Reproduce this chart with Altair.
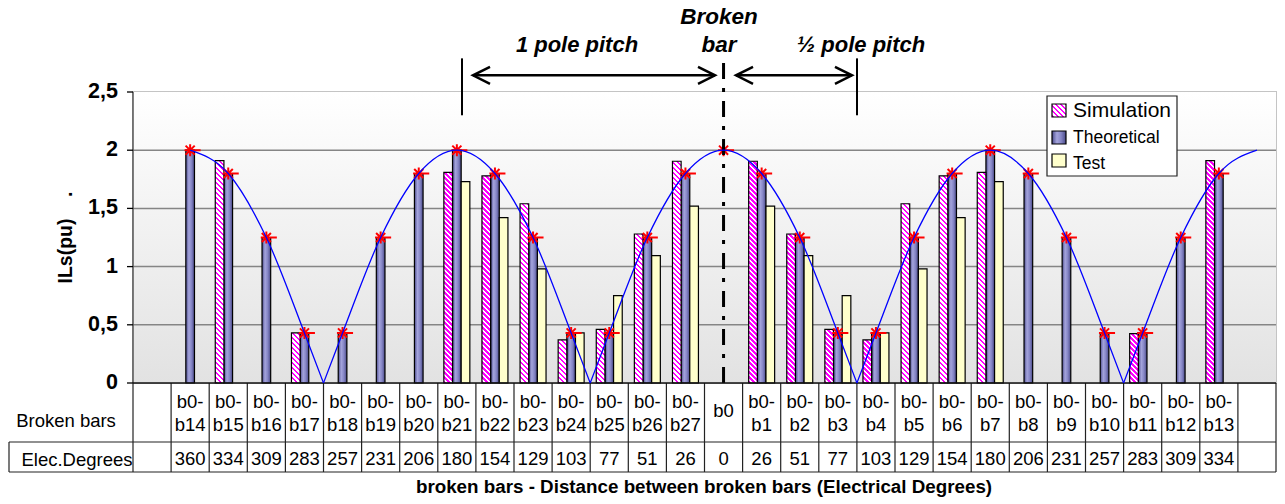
import altair as alt
import pandas as pd

# ---------------- data ----------------
categories = ["", "b0-b14", "b0-b15", "b0-b16", "b0-b17", "b0-b18", "b0-b19", "b0-b20",
              "b0-b21", "b0-b22", "b0-b23", "b0-b24", "b0-b25", "b0-b26", "b0-b27", "b0",
              "b0-b1", "b0-b2", "b0-b3", "b0-b4", "b0-b5", "b0-b6", "b0-b7", "b0-b8",
              "b0-b9", "b0-b10", "b0-b11", "b0-b12", "b0-b13", ""]
elec_degrees = [None, 360, 334, 309, 283, 257, 231, 206, 180, 154, 129, 103, 77, 51, 26, 0,
                26, 51, 77, 103, 129, 154, 180, 206, 231, 257, 283, 309, 334, None]
simulation = [None, None, 1.91, None, 0.43, None, None, None, 1.81, 1.78, 1.54, 0.37, 0.46, 1.28,
              1.905, None, 1.905, 1.28, 0.46, 0.37, 1.54, 1.78, 1.81, None, None, None, 0.425,
              None, 1.91, None]
theoretical = [None, 2.0, 1.8, 1.25, 0.43, 0.43, 1.25, 1.8, 2.0, 1.8, 1.25, 0.43, 0.43, 1.25, 1.8,
               None, 1.8, 1.25, 0.43, 0.43, 1.25, 1.8, 2.0, 1.8, 1.25, 0.43, 0.43, 1.25, 1.8, None]
test = [None, None, None, None, None, None, None, None, 1.73, 1.42, 0.98, 0.43, 0.75, 1.095,
        1.52, None, 1.52, 1.095, 0.75, 0.43, 0.98, 1.42, 1.73, None, None, None, None, None,
        None, None]
theory_points = [None, 2.0, 1.8, 1.25, 0.43, 0.43, 1.25, 1.8, 2.0, 1.8, 1.25, 0.43, 0.43, 1.25,
                 1.8, 2.0, 1.8, 1.25, 0.43, 0.43, 1.25, 1.8, 2.0, 1.8, 1.25, 0.43, 0.43, 1.25,
                 1.8, None]
# theoretical curve (position in column units, value), one arch per id
curve_pos = [1.5, 2.5, 3.5, 4.5, 5.0,
             5.0, 5.5, 6.5, 7.5, 8.5, 9.5, 10.5, 11.5, 12.0,
             12.0, 12.5, 13.5, 14.5, 15.5, 16.5, 17.5, 18.5, 19.0,
             19.0, 19.5, 20.5, 21.5, 22.5, 23.5, 24.5, 25.5, 26.0,
             26.0, 26.5, 27.5, 28.5, 29.5]
curve_val = [2.0, 1.8, 1.25, 0.43, 0.0,
             0.0, 0.43, 1.25, 1.8, 2.0, 1.8, 1.25, 0.43, 0.0,
             0.0, 0.43, 1.25, 1.8, 2.0, 1.8, 1.25, 0.43, 0.0,
             0.0, 0.43, 1.25, 1.8, 2.0, 1.8, 1.25, 0.43, 0.0,
             0.0, 0.43, 1.25, 1.8, 2.0]
curve_arch = [1] * 5 + [2] * 9 + [3] * 9 + [4] * 9 + [5] * 5
series_names = ["Simulation", "Theoretical", "Test"]
y_ticks = [0, 0.5, 1, 1.5, 2, 2.5]
y_tick_labels = ["0", "0,5", "1", "1,5", "2", "2,5"]

# ---------------- layout / style ----------------
W, H = 1143, 291
NCAT = len(categories)
COL = W / NCAT
YMAX = 2.5
PXU = H / YMAX
PAD_OUT = 0.7
BAR_W = COL / (3 + 2 * PAD_OUT)
MAG = "#ff00ff"
FONT = "Liberation Sans"
NARROW = "Liberation Sans Narrow, Arial Narrow, Liberation Sans"


def stripe_gradient(w, h, period=5.0):
    m = (w + h) / (w * w + h * h)
    n = (w + h) / period
    stops = []
    k = 0
    while k < n:
        a = min(k / n, 1.0)
        b = min((k + 0.5) / n, 1.0)
        c = min((k + 1) / n, 1.0)
        stops += [alt.GradientStop(color=MAG, offset=a), alt.GradientStop(color=MAG, offset=b),
                  alt.GradientStop(color="#ffffff", offset=b), alt.GradientStop(color="#ffffff", offset=c)]
        k += 1
    return alt.LinearGradient(gradient="linear", stops=stops, x1=0, y1=1, x2=m * w, y2=1 - m * h)


theo_grad = alt.LinearGradient(
    gradient="linear", x1=0, y1=0, x2=1, y2=0,
    stops=[alt.GradientStop(color="#4c4c8c", offset=0), alt.GradientStop(color="#a4a4dc", offset=0.35),
           alt.GradientStop(color="#8686c6", offset=0.65), alt.GradientStop(color="#4a4a88", offset=1)])
bg_grad = alt.LinearGradient(gradient="linear", x1=0, y1=0, x2=0, y2=1,
                             stops=[alt.GradientStop(color="#ffffff", offset=0),
                                    alt.GradientStop(color="#e2e2e2", offset=1)])

band_x = alt.X("idx:O", scale=alt.Scale(type="band", domain=list(range(NCAT)), paddingInner=0,
                                        paddingOuter=0), axis=None)
xoff = alt.XOffset("series:N", scale=alt.Scale(domain=series_names, paddingInner=0, paddingOuter=PAD_OUT))
yscale = alt.Scale(domain=[0, YMAX], nice=False, zero=True)


def yq(f):
    return alt.Y(f, type="quantitative", scale=yscale, axis=None)


def quant_x(f):
    return alt.X(f, type="quantitative", scale=alt.Scale(domain=[0, NCAT], nice=False, zero=False), axis=None)


idx_all = list(range(NCAT))
one_df = pd.DataFrame({"k": [0]})

# ---------------- background, grid and y axis ----------------
bg = alt.Chart(one_df).mark_rect(fill=bg_grad, strokeWidth=0).encode(
    x=alt.value(0), x2=alt.value(W), y=alt.value(0), y2=alt.value(H))
grid_df = pd.DataFrame({"g": [v for v in y_ticks if 0 < v < YMAX]})
grid = alt.Chart(grid_df).mark_rule(color="#858585", strokeWidth=1.5).encode(
    x=alt.value(0), x2=alt.value(W), y=yq("g"))
axis_df = pd.DataFrame({"v": y_ticks, "lab": y_tick_labels})
y_ticks_m = alt.Chart(axis_df).mark_rule(color="black", strokeWidth=1.3).encode(
    x=alt.value(-6), x2=alt.value(0), y=yq("v"))
y_labels = alt.Chart(axis_df).mark_text(font=FONT, fontSize=21.5, fontWeight="bold", color="black",
                                        align="right", baseline="middle").encode(
    x=alt.value(-15), y=yq("v"), text="lab:N")
y_domain = alt.Chart(one_df).mark_rule(color="#555555", strokeWidth=1.5).encode(
    x=alt.value(0), y=alt.value(0), y2=alt.value(H))
y_title = alt.Chart(pd.DataFrame({"t": ["ILs(pu)\u00a0\u00a0\u00a0\u00a0."]})).mark_text(
    font=FONT, fontSize=19.5, fontWeight="bold", color="black", angle=270, align="center",
    baseline="alphabetic").encode(x=alt.value(-61), y=alt.value(H / 2), text="t:N")

# ---------------- bars ----------------
theo_df = pd.DataFrame({"idx": idx_all, "value": theoretical, "series": "Theoretical"}).dropna()
test_df = pd.DataFrame({"idx": idx_all, "value": test, "series": "Test"}).dropna()
sim_df = pd.DataFrame({"idx": idx_all, "value": simulation, "series": "Simulation"}).dropna()

band_layers = []
band_layers.append(
    alt.Chart(theo_df).mark_bar(fill=theo_grad, stroke="black", strokeWidth=1.2).encode(
        x=band_x, xOffset=xoff, y=yq("value")))
band_layers.append(
    alt.Chart(test_df).mark_bar(fill="#ffffcc", stroke="black", strokeWidth=1.2).encode(
        x=band_x, xOffset=xoff, y=yq("value")))
for _, row in sim_df.iterrows():
    one = pd.DataFrame([row])
    band_layers.append(
        alt.Chart(one).mark_bar(fill=stripe_gradient(BAR_W, row["value"] * PXU), stroke="black",
                                strokeWidth=1.2).encode(
            x=band_x, xOffset=xoff, y=yq("value")))

# ---------------- quantitative-x layers ----------------
curve_df = pd.DataFrame({"pos": curve_pos, "val": curve_val, "arch": curve_arch})
curve = alt.Chart(curve_df).mark_line(color="#0000ff", strokeWidth=1.3, interpolate="monotone").encode(
    x=quant_x("pos"), y=yq("val"), detail="arch:N")

star_df = pd.DataFrame({"idx": idx_all, "value": theory_points}).dropna()
star_shape = "M-0.8,0L1.5,0M0,-0.85L0,0.85M-0.65,-0.65L0.65,0.65M-0.65,0.65L0.65,-0.65"
stars = alt.Chart(star_df).mark_point(shape=star_shape, size=196, filled=False, color="#ff0000",
                                      strokeWidth=2, opacity=1).encode(
    x=band_x, y=yq("value"))

dash_df = pd.DataFrame({"idx": [15], "y0": [0.0], "y1": [2.772]})
dashdot = alt.Chart(dash_df).mark_rule(color="black", strokeWidth=3, strokeDash=[16, 9, 4, 9]).encode(
    x=band_x, y=yq("y0"), y2="y1:Q")

# annotations above the plot
pipe_df = pd.DataFrame({"pos": [8.635, 19.003], "y0": [2.30, 2.30], "y1": [2.789, 2.789]})
pipes = alt.Chart(pipe_df).mark_rule(color="black", strokeWidth=2).encode(
    x=quant_x("pos"), y=yq("y0"), y2="y1:Q")
shaft_df = pd.DataFrame({"p0": [8.924, 15.827], "p1": [15.276, 18.871], "y": [2.643, 2.643]})
shafts = alt.Chart(shaft_df).mark_rule(color="black", strokeWidth=2.5).encode(
    x=quant_x("p0"), x2="p1:Q", y=yq("y"))
lhead = alt.Chart(shaft_df).mark_point(shape="M1,-0.5L0,0L1,0.5", size=1156, filled=False, color="black",
                                       strokeWidth=2.5, opacity=1).encode(
    x=quant_x("p0"), y=yq("y"))
rhead = alt.Chart(shaft_df).mark_point(shape="M-1,-0.5L0,0L-1,0.5", size=1156, filled=False, color="black",
                                       strokeWidth=2.5, opacity=1).encode(
    x=quant_x("p1"), y=yq("y"))

# ---------------- table under the plot ----------------
tab_df = pd.DataFrame({"idx": idx_all, "cat": categories, "deg": elec_degrees})
tab_df = tab_df[tab_df["cat"] != ""].copy()
tab_df["top"] = tab_df["cat"].apply(lambda s: s.split("-")[0] + "-" if "-" in s else "")
tab_df["bot"] = tab_df["cat"].apply(lambda s: s.split("-")[1] if "-" in s else "")
tab_df["single"] = tab_df["cat"].apply(lambda s: "" if "-" in s else s)
tab_df["degs"] = tab_df["deg"].astype(int).astype(str)

tstyle = dict(font=NARROW, fontSize=18.5, color="black", align="center", baseline="alphabetic")
t_top = alt.Chart(tab_df).mark_text(**tstyle).encode(x=band_x, y=alt.value(316), text="top:N")
t_bot = alt.Chart(tab_df).mark_text(**tstyle).encode(x=band_x, y=alt.value(339), text="bot:N")
t_single = alt.Chart(tab_df).mark_text(**tstyle).encode(x=band_x, y=alt.value(325), text="single:N")
t_deg = alt.Chart(tab_df).mark_text(**tstyle).encode(x=band_x, y=alt.value(373), text="degs:N")

bounds_df = pd.DataFrame({"b": list(range(NCAT + 1))})
vlines = alt.Chart(bounds_df).mark_rule(color="#222222", strokeWidth=1.2).encode(
    x=quant_x("b"), y=alt.value(H), y2=alt.value(380))
hl_axis = alt.Chart(one_df).mark_rule(color="#111111", strokeWidth=1.5).encode(
    x=alt.value(0), x2=alt.value(W), y=alt.value(H))
hl_mid = alt.Chart(one_df).mark_rule(color="#222222", strokeWidth=1.2).encode(
    x=alt.value(-124), x2=alt.value(W), y=alt.value(350))
hl_bot = alt.Chart(one_df).mark_rule(color="#222222", strokeWidth=1.2).encode(
    x=alt.value(-124), x2=alt.value(W), y=alt.value(380))
vl_left = alt.Chart(one_df).mark_rule(color="#222222", strokeWidth=1.2).encode(
    x=alt.value(-124), y=alt.value(350), y2=alt.value(380))


def label(text, x, y, size, weight="normal", style="normal", font=FONT, align="center"):
    return alt.Chart(pd.DataFrame({"t": [text]})).mark_text(
        font=font, fontSize=size, fontWeight=weight, fontStyle=style, color="black",
        align=align, baseline="alphabetic").encode(x=alt.value(x), y=alt.value(y), text="t:N")


texts = [
    label("Broken bars", -67, 335, 18.5, font=NARROW),
    label("Elec.Degrees", -56, 374, 18.5, font=NARROW),
    label("broken bars - Distance between broken bars (Electrical Degrees)", 571, 401, 18.8, weight="bold"),
    label("Broken", 586, -68, 22.5, weight="bold", style="italic"),
    label("bar", 586, -40, 22.5, weight="bold", style="italic"),
    label("1 pole pitch", 444, -40, 22, weight="bold", style="italic"),
    label("\u00bd pole pitch", 728, -40, 22, weight="bold", style="italic"),
]

# ---------------- legend (drawn) ----------------
leg_box = alt.Chart(one_df).mark_rect(fill="white", stroke="#222222", strokeWidth=1.2).encode(
    x=alt.value(914), x2=alt.value(1044), y=alt.value(4), y2=alt.value(84))
sw_sim = alt.Chart(one_df).mark_rect(fill=stripe_gradient(14, 13, 5.0), stroke="black", strokeWidth=1.2).encode(
    x=alt.value(919), x2=alt.value(933), y=alt.value(12), y2=alt.value(25))
sw_theo = alt.Chart(one_df).mark_rect(fill=theo_grad, stroke="black", strokeWidth=1.2).encode(
    x=alt.value(919), x2=alt.value(933), y=alt.value(39), y2=alt.value(52))
sw_test = alt.Chart(one_df).mark_rect(fill="#ffffcc", stroke="black", strokeWidth=1.2).encode(
    x=alt.value(919), x2=alt.value(933), y=alt.value(62), y2=alt.value(75))
leg_texts = [
    label(series_names[0], 940, 25, 21, align="left"),
    label(series_names[1], 940, 51, 17.5, align="left"),
    label(series_names[2], 940, 77, 17.5, align="left"),
]

back_group = alt.layer(bg, grid, y_domain, y_ticks_m, y_labels, y_title)
band_group = alt.layer(*band_layers, stars, dashdot, t_top, t_bot, t_single, t_deg)
quant_group = alt.layer(vlines, hl_axis, hl_mid, hl_bot, vl_left, curve, pipes, shafts, lhead, rhead,
                        *texts, leg_box, sw_sim, sw_theo, sw_test, *leg_texts)

chart = alt.layer(back_group, band_group, quant_group).resolve_scale(x="independent").properties(
    width=W, height=H,
    autosize=alt.AutoSizeParams(type="none"),
    padding={"left": 133, "top": 92, "right": 9, "bottom": 121},
).configure_view(stroke="#c4c4c4", strokeWidth=2)

chart.save("out.html", embed_options={"renderer": "svg", "actions": False})
